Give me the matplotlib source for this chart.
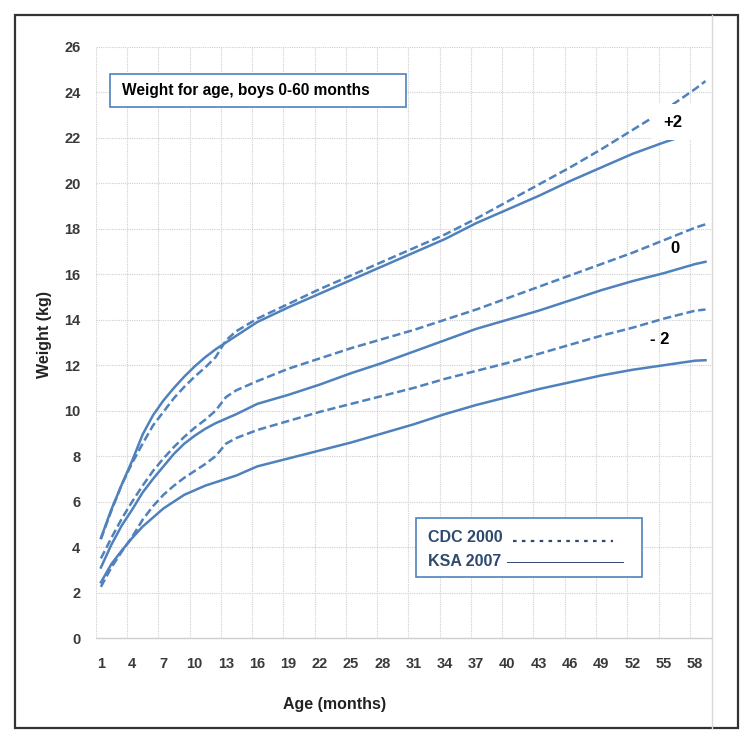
import matplotlib
matplotlib.use("Agg")
import matplotlib.pyplot as plt
from matplotlib.patches import Rectangle
from matplotlib.lines import Line2D

plt.rcParams['font.family'] = ['Liberation Sans Narrow', 'Liberation Sans', 'DejaVu Sans']

# ---- data ----
months = [1, 2, 3, 4, 5, 6, 7, 8, 9, 10, 11, 12, 13, 14, 16, 19, 22, 25, 28, 31,
          34, 37, 40, 43, 46, 49, 52, 55, 58, 59]
ksa_p2 = [4.4, 5.65, 6.75, 7.8, 8.95, 9.8, 10.45, 11.0, 11.5, 11.95, 12.35, 12.7, 13.0, 13.3,
          13.9, 14.55, 15.15, 15.75, 16.35, 16.95, 17.55, 18.25, 18.85, 19.45, 20.1, 20.7,
          21.3, 21.8, 22.25, 22.4]
cdc_p2 = [4.35, 5.6, 6.75, 7.7, 8.55, 9.35, 9.95, 10.55, 11.05, 11.5, 11.9, 12.35, 13.1, 13.5,
          14.05, 14.7, 15.35, 15.95, 16.55, 17.15, 17.75, 18.45, 19.2, 19.95, 20.7, 21.5,
          22.35, 23.2, 24.15, 24.5]
ksa_0 = [3.1, 4.1, 4.95, 5.65, 6.4, 7.0, 7.55, 8.1, 8.55, 8.9, 9.2, 9.45, 9.65, 9.85,
         10.3, 10.7, 11.15, 11.65, 12.1, 12.6, 13.1, 13.6, 14.0, 14.4, 14.85, 15.3,
         15.7, 16.05, 16.45, 16.55]
cdc_0 = [3.5, 4.4, 5.25, 6.0, 6.7, 7.35, 7.9, 8.4, 8.85, 9.25, 9.6, 10.0, 10.6, 10.9,
         11.3, 11.85, 12.3, 12.75, 13.15, 13.55, 14.0, 14.45, 14.95, 15.45, 15.95, 16.45,
         16.95, 17.5, 18.05, 18.2]
cdc_m2 = [2.25, 3.1, 3.8, 4.45, 5.2, 5.8, 6.3, 6.7, 7.05, 7.35, 7.65, 8.0, 8.55, 8.8,
          9.15, 9.55, 9.95, 10.3, 10.65, 11.0, 11.4, 11.75, 12.1, 12.5, 12.9, 13.3,
          13.65, 14.05, 14.4, 14.45]
ksa_m2 = [2.45, 3.25, 3.85, 4.4, 4.9, 5.3, 5.7, 6.0, 6.3, 6.5, 6.7, 6.85, 7.0, 7.15,
          7.55, 7.9, 8.25, 8.6, 9.0, 9.4, 9.85, 10.25, 10.6, 10.95, 11.25, 11.55,
          11.8, 12.0, 12.2, 12.22]
xtick_labels = [str(m) for m in range(1, 59, 3)]
ytick_values = list(range(0, 27, 2))
title_text = "Weight for age, boys 0-60 months"
legend_cdc = "CDC 2000"
legend_ksa = "KSA 2007"
curve_labels = ["+2", "0", "- 2"]

W, H = 754, 744
fig = plt.figure(figsize=(W / 100, H / 100), dpi=100)

def fx(px):
    return px / W

def fy(py):
    return 1 - py / H

ax_left, ax_right, ax_top, ax_bottom = 95.7, 710.7, 47, 638
ax = fig.add_axes([fx(ax_left), fy(ax_bottom), (ax_right - ax_left) / W, (ax_bottom - ax_top) / H])

blue = '#4F81BD'
lw = 1.8
dash = (3.3, 1.5)
ax.plot(months, ksa_p2, color=blue, lw=lw, zorder=2)
ax.plot(months, cdc_p2, color=blue, lw=lw, dashes=dash, zorder=2)
ax.plot(months, ksa_0, color=blue, lw=lw, zorder=2)
ax.plot(months, cdc_0, color=blue, lw=lw, dashes=dash, zorder=2)
ax.plot(months, ksa_m2, color=blue, lw=lw, zorder=2)
ax.plot(months, cdc_m2, color=blue, lw=lw, dashes=dash, zorder=2)

ax.set_xlim(0.5, 59.5)
ax.set_ylim(0, 26)
ax.set_xticks(list(range(1, 59, 3)))
ax.set_xticklabels(xtick_labels)
ax.set_yticks(ytick_values)
ax.set_yticklabels([str(v) for v in ytick_values])
ax.set_xticks([0.5 + 3 * i for i in range(20)], minor=True)
ax.tick_params(axis='both', which='both', length=0)
ax.tick_params(axis='x', which='major', pad=14, labelsize=10.5, labelcolor='#3a3a3a')
ax.tick_params(axis='y', which='major', pad=11, labelsize=10.5, labelcolor='#3a3a3a')
for lab in ax.get_xticklabels() + ax.get_yticklabels():
    lab.set_fontweight('bold')

ax.grid(axis='y', which='major', color='#cfcfcf', lw=0.8, ls=(0, (1, 1)))
ax.grid(axis='x', which='minor', color='#cfcfcf', lw=0.8, ls=(0, (1, 1)))
ax.grid(axis='x', which='major', visible=False)
ax.set_axisbelow(True)
for s in ['left', 'right', 'top']:
    ax.spines[s].set_visible(False)
ax.spines['bottom'].set_color('#d0d0d0')
ax.spines['bottom'].set_linewidth(1.0)

# white label box covering +2 curves end
ax.add_patch(Rectangle((53.9, 21.9), 5.6, 1.6, facecolor='white', edgecolor='none', zorder=3))
ax.text(55.9, 22.7, curve_labels[0], fontsize=12, fontweight='bold', ha='center', va='center', zorder=4)
ax.text(56.1, 17.15, curve_labels[1], fontsize=12, fontweight='bold', ha='center', va='center', zorder=4)
ax.text(54.6, 13.15, curve_labels[2], fontsize=12, fontweight='bold', ha='center', va='center', zorder=4)

# axis titles
fig.text(fx(45), fy(334), "Weight (kg)", rotation=90, ha='center', va='center',
         fontsize=11.5, fontweight='bold', color='#222222')
fig.text(fx(335), fy(704), "Age (months)", ha='center', va='center',
         fontsize=11.5, fontweight='bold', color='#222222')

# title box
fig.add_artist(Rectangle((fx(110), fy(107)), (406 - 110) / W, (107 - 74) / H,
                         transform=fig.transFigure, facecolor='white', edgecolor=blue, lw=1.2))
fig.text(fx(122), fy(91), title_text, ha='left', va='center', fontsize=11.2,
         fontweight='bold', color='black')

# legend box
legend_color = '#2F4A6E'
fig.add_artist(Rectangle((fx(416), fy(577)), (642 - 416) / W, (577 - 518) / H,
                         transform=fig.transFigure, facecolor='white', edgecolor=blue, lw=1.2))
fig.text(fx(428), fy(537), legend_cdc, ha='left', va='center', fontsize=11.5,
         fontweight='bold', color=legend_color)
fig.text(fx(428), fy(561), legend_ksa, ha='left', va='center', fontsize=11.5,
         fontweight='bold', color=legend_color)
fig.add_artist(Line2D([fx(513), fx(613)], [fy(541), fy(541)], transform=fig.transFigure,
                      color=legend_color, lw=1.6, dashes=(1.6, 2.4)))
fig.add_artist(Line2D([fx(507), fx(623)], [fy(561.5), fy(561.5)], transform=fig.transFigure,
                      color=legend_color, lw=0.7))

# right gray line and outer border
fig.add_artist(Line2D([fx(711.7), fx(711.7)], [fy(15), fy(728)], transform=fig.transFigure,
                      color='#d8d8d8', lw=1.0))
fig.add_artist(Rectangle((fx(15), fy(728)), (738 - 15) / W, (728 - 15) / H,
                         transform=fig.transFigure, facecolor='none', edgecolor='#333333', lw=1.6))

fig.savefig("out.png", dpi=100, facecolor='white')
